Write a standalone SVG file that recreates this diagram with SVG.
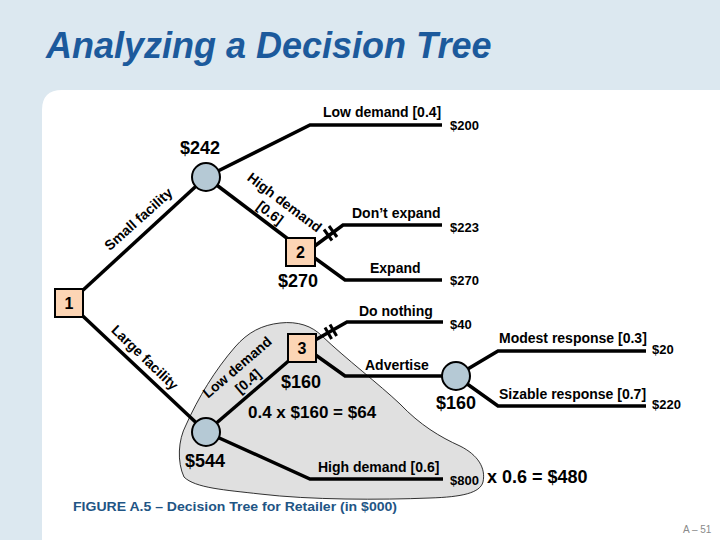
<svg xmlns="http://www.w3.org/2000/svg" width="720" height="540" viewBox="0 0 720 540">
<style>
.bg{fill:#dce8f0}
.panel{fill:#ffffff}
.title{font-family:"Liberation Sans",Arial,sans-serif;font-weight:bold;font-style:italic;font-size:36px;fill:#1c5a9c}
.lbl{font-family:"Liberation Sans",Arial,sans-serif;font-weight:bold;font-size:14px;fill:#000}
.val{font-family:"Liberation Sans",Arial,sans-serif;font-weight:bold;font-size:13px;fill:#000}
.big{font-family:"Liberation Sans",Arial,sans-serif;font-weight:bold;font-size:18px;fill:#000}
.num{font-family:"Liberation Sans",Arial,sans-serif;font-weight:bold;font-size:16px;fill:#000;text-anchor:middle}
.cap{font-family:"Liberation Sans",Arial,sans-serif;font-weight:bold;font-size:12.5px;fill:#1f5585}
.pg{font-family:"Liberation Sans",Arial,sans-serif;font-size:10px;fill:#8a8a8a}
.edge{fill:none;stroke:#000;stroke-width:3.5;stroke-linejoin:miter}
.brk{stroke:#000;stroke-width:3}
.dec{fill:#fcd5b5;stroke:#000;stroke-width:2}
.chn{fill:#b5c9d5;stroke:#000;stroke-width:2}
.blob{fill:#e0e0e0;stroke:#000;stroke-width:0.8}
</style>
<rect class="bg" x="0" y="0" width="720" height="540"/>
<path class="panel" d="M42,540 L42,110 Q42,90 62,90 L720,90 L720,540 Z"/>
<text class="title" x="46" y="58">Analyzing a Decision Tree</text>

<g id="highlight">
<path class="blob" d="M280,323 C298,321 312,326 322,336 C345,358 380,385 400,404 C420,425 440,437 460,446 C478,455 486,468 483,482 C480,493 462,497 430,498 C380,500 310,500 260,494 C225,490 195,488 184,477 C177,462 178,440 186,425 C198,398 215,370 235,347 C248,332 262,325 280,323 Z"/>
</g>

<g id="connectors">
<polyline class="edge" points="69,303 206,177"/>
<polyline class="edge" points="206,177 310,125 442,125"/>
<polyline class="edge" points="206,177 292,242"/>
<polyline class="edge" points="308,251 343,225 442,225"/>
<polyline class="edge" points="308,253 345,280 442,280"/>
<polyline class="edge" points="69,303 206,432"/>
<polyline class="edge" points="206,432 292,358"/>
<polyline class="edge" points="206,432 310,479 443,479"/>
<polyline class="edge" points="310,343 347,322 443,322"/>
<polyline class="edge" points="310,351 345,376 442,376"/>
<polyline class="edge" points="456,376 498,351 646,351"/>
<polyline class="edge" points="456,376 498,406 646,406"/>
<line class="brk" x1="324" y1="229.5" x2="332" y2="240.5"/>
<line class="brk" x1="329" y1="226" x2="337" y2="237"/>
<line class="brk" x1="325" y1="327.5" x2="331.6" y2="339"/>
<line class="brk" x1="330" y1="324.5" x2="336.6" y2="336"/>
</g>

<g id="node1">
<rect class="dec" x="55" y="289" width="28" height="28"/>
<text class="num" x="69" y="309">1</text>
</g>
<g id="chance-small">
<circle class="chn" cx="206" cy="177" r="14"/>
<text class="big" x="180" y="154">$242</text>
</g>
<g id="node2">
<rect class="dec" x="286" y="238" width="29" height="28"/>
<text class="num" x="300.5" y="258">2</text>
<text class="big" x="278" y="287">$270</text>
</g>
<g id="chance-large">
<circle class="chn" cx="206" cy="432" r="14"/>
<text class="big" x="185" y="467">$544</text>
</g>
<g id="node3">
<rect class="dec" x="288" y="334" width="28" height="28"/>
<text class="num" x="302" y="354">3</text>
<text class="big" x="281" y="388">$160</text>
</g>
<g id="chance-advertise">
<circle class="chn" cx="456" cy="376" r="14"/>
<text class="big" x="436" y="409">$160</text>
</g>

<g id="labels">
<text class="lbl" transform="translate(141.6,222.7) rotate(-41.8)" text-anchor="middle">Small facility</text>
<text class="lbl" transform="translate(281.7,206.3) rotate(37)" text-anchor="middle">High demand</text>
<text class="lbl" transform="translate(267.2,216.6) rotate(37)" text-anchor="middle">[0.6]</text>
<text class="lbl" transform="translate(141.5,361) rotate(43.9)" text-anchor="middle">Large facility</text>
<text class="lbl" transform="translate(240.4,370.9) rotate(-40.7)" text-anchor="middle">Low demand</text>
<text class="lbl" transform="translate(251.1,384.8) rotate(-40.7)" text-anchor="middle">[0.4]</text>
<text class="lbl" x="323" y="117">Low demand [0.4]</text>
<text class="val" x="450" y="130">$200</text>
<text class="lbl" x="352" y="218">Don’t expand</text>
<text class="val" x="450" y="232">$223</text>
<text class="lbl" x="370" y="273">Expand</text>
<text class="val" x="450" y="285">$270</text>
<text class="lbl" x="359" y="316">Do nothing</text>
<text class="val" x="450" y="329">$40</text>
<text class="lbl" x="365" y="370">Advertise</text>
<text class="big" x="248" y="418" style="font-size:17px">0.4 x $160 = $64</text>
<text class="lbl" x="499" y="343">Modest response [0.3]</text>
<text class="val" x="652" y="354">$20</text>
<text class="lbl" x="499" y="399">Sizable response [0.7]</text>
<text class="val" x="652" y="409">$220</text>
<text class="lbl" x="318" y="472">High demand [0.6]</text>
<text class="val" x="450" y="485">$800</text>
<text class="big" x="487" y="483">x 0.6 = $480</text>
</g>

<text class="cap" x="73" y="511" textLength="324" lengthAdjust="spacingAndGlyphs">FIGURE A.5 – Decision Tree for Retailer (in $000)</text>
<text class="pg" x="683" y="533">A – 51</text>
</svg>
